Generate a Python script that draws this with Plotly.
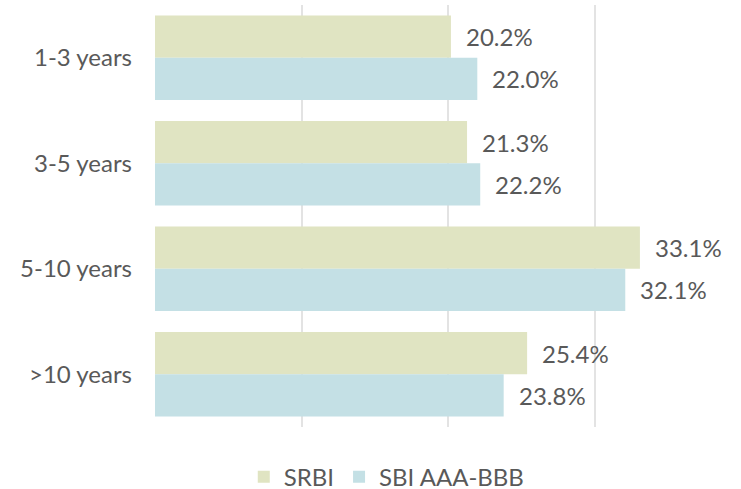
import plotly.graph_objects as go

categories = ["1-3 years", "3-5 years", "5-10 years", ">10 years"]
srbi = [20.2, 21.3, 33.1, 25.4]
sbi = [22.0, 22.2, 32.1, 23.8]
series_names = ["SRBI", "SBI AAA-BBB"]
colors = ["#e0e4c2", "#c4e0e5"]
grid_ticks = [0, 10, 20, 30]

FONT = dict(family="Lato", size=24, color="#595959")

fig = go.Figure()
for name, vals, col in zip(series_names, [srbi, sbi], colors):
    fig.add_trace(go.Bar(
        y=categories, x=vals, name=name, orientation="h",
        marker=dict(color=col, line=dict(width=0)),
        hoverinfo="skip",
    ))

annotations = []
for i, vals in enumerate([srbi, sbi]):
    shift = 21 if i == 0 else -21
    for c, v in zip(categories, vals):
        annotations.append(dict(
            x=v, y=c, xref="x", yref="y", text=f"{v:.1f}%",
            showarrow=False, xanchor="left", yanchor="middle",
            xshift=13, yshift=shift, font=FONT,
        ))
annotations.append(dict(
    x=1.0, y=0, xref="paper", yref="paper", text="Source: SIX",
    showarrow=False, xanchor="left", yanchor="top",
    xshift=-103, yshift=-57, font=FONT,
))

fig.update_layout(
    width=741, height=489,
    margin=dict(l=155, r=0, t=5, b=62, autoexpand=False),
    paper_bgcolor="white", plot_bgcolor="white",
    barmode="group", bargap=0.2, bargroupgap=0,
    font=FONT,
    xaxis=dict(range=[0, 40], tickvals=grid_ticks, showticklabels=False,
               showgrid=True, gridcolor="#e3e3e3", gridwidth=2,
               zeroline=False, showline=False, fixedrange=True,
               automargin=False),
    yaxis=dict(autorange="reversed", showgrid=False, showline=False,
               ticks="", ticklabelstandoff=22, automargin=False,
               tickfont=FONT, fixedrange=True),
    legend=dict(orientation="h", x=0.3955, xanchor="center", y=-0.172,
                yanchor="bottom", font=FONT, itemwidth=30,
                traceorder="normal"),
    annotations=annotations,
    showlegend=True,
)

fig.write_html(
    "out.html",
    config={"displayModeBar": False},
    post_script="document.body.style.margin='0';document.body.style.overflow='hidden';",
)
